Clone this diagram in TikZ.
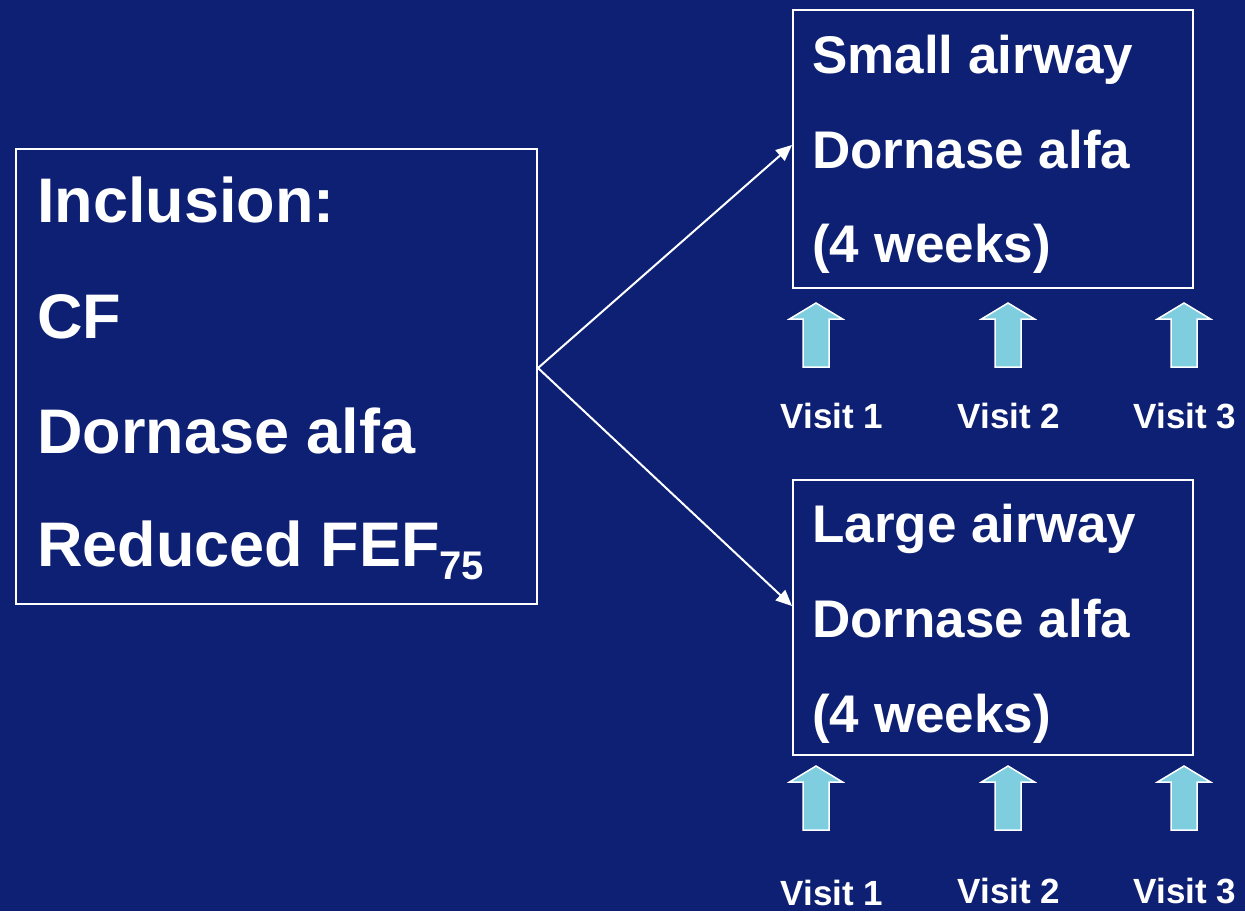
\documentclass[tikz,border=0pt]{standalone}
\usepackage{fontspec}
\setmainfont{Liberation Sans}
\usetikzlibrary{arrows.meta}
\definecolor{slidebg}{RGB}{13,32,116}
\definecolor{visitblue}{RGB}{127,206,224}

\begin{document}
\begin{tikzpicture}[x=1pt,y=-1pt,
	box/.style={draw=white,line width=2pt,anchor=north west,inner sep=0pt},
	big/.style={text=white,anchor=base west,inner sep=0pt,font=\bfseries\fontsize{63}{63}\selectfont},
	arm/.style={text=white,anchor=base west,inner sep=0pt,font=\bfseries\fontsize{53}{53}\selectfont},
	visit/.style={text=white,anchor=base,inner sep=0pt,font=\bfseries\fontsize{35}{35}\selectfont},
	link/.style={draw=white,line width=2pt,-{Triangle[length=16pt,width=14pt]}},
	blockarrow/.style={fill=visitblue,draw=white,line width=1.5pt}]
\useasboundingbox[fill=slidebg] (0,0) rectangle (1245,911);

\node[box,minimum width=521pt,minimum height=455pt] (incl) at (15,148) {};
\node[big] (inclusion) at (37,222) {Inclusion:};
\node[big] (cf) at (37,338) {CF};
\node[big] (dornase) at (37,453) {Dornase alfa};
\node[big] (fef) at (37,566) {Reduced FEF\raisebox{-13pt}{\fontsize{40}{40}\selectfont 75}};

\node[box,minimum width=400pt,minimum height=278pt] (small) at (792,9) {};
\node[arm] (smallname) at (812,73) {Small airway};
\node[arm] (smalldrug) at (812,168) {Dornase alfa};
\node[arm] (smallweeks) at (812,262) {(4 weeks)};

\node[box,minimum width=400pt,minimum height=275pt] (large) at (792,479) {};
\node[arm] (largename) at (812,542) {Large airway};
\node[arm] (largedrug) at (812,637) {Dornase alfa};
\node[arm] (largeweeks) at (812,732) {(4 weeks)};

\draw[link] ([yshift=8.5pt]incl.east) -- ([yshift=4pt]small.west);
\draw[link] ([yshift=8.5pt]incl.east) -- ([yshift=11.5pt]large.west);

\foreach \y in {303,766}
	\foreach \x in {816,1008,1184}
		\draw[blockarrow] (\x,\y) -- ++(26.5,16) -- ++(-13.5,0) -- ++(0,48)
			-- ++(-26,0) -- ++(0,-48) -- ++(-13.5,0) -- cycle;

\node[visit] (topv1) at (832,428) {Visit 1};
\node[visit] (topv2) at (1009,428) {Visit 2};
\node[visit] (topv3) at (1185,428) {Visit 3};
\node[visit] (botv1) at (832,905) {Visit 1};
\node[visit] (botv2) at (1009,903) {Visit 2};
\node[visit] (botv3) at (1185,903) {Visit 3};
\end{tikzpicture}
\end{document}
